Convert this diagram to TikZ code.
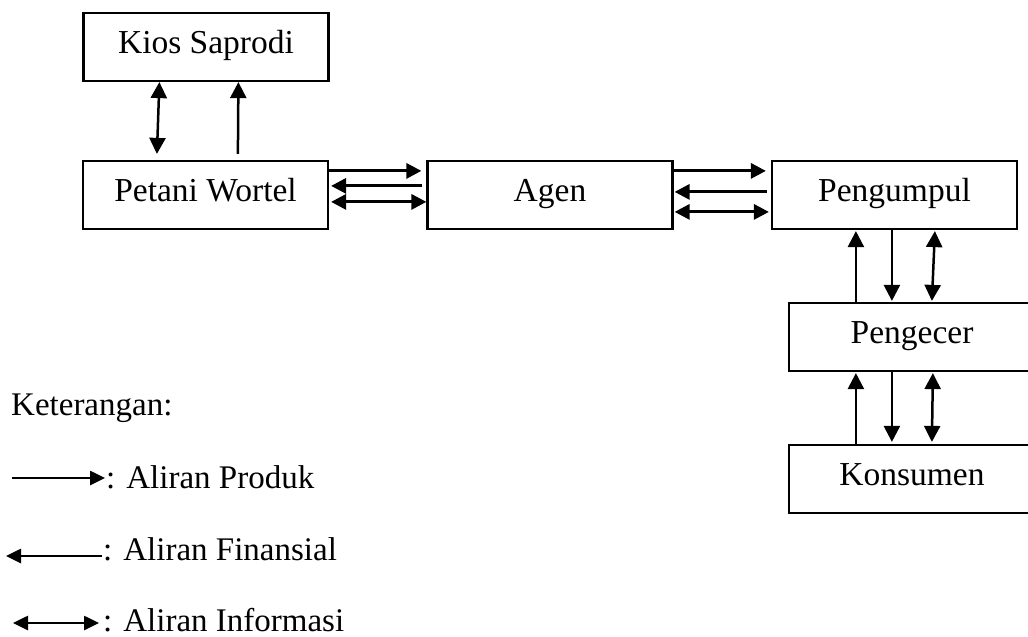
\documentclass[tikz,border=0pt]{standalone}
\usepackage{fontspec}
\setmainfont{Liberation Serif}
\usetikzlibrary{arrows.meta,calc}
\begin{document}
\begin{tikzpicture}[x=1pt,y=-1pt,
  box/.style={draw,line width=2.2pt,minimum width=245pt,minimum height=68pt,inner sep=0pt,
    text height=20pt,text depth=8pt,font=\fontsize{33.5}{38}\selectfont},
  legtext/.style={anchor=base west,inner sep=0pt,font=\fontsize{33}{38}\selectfont},
  harr/.style={line width=3pt,-{Triangle[length=15pt,width=15pt]}},
  hdbl/.style={line width=3pt,{Triangle[length=15pt,width=15pt]}-{Triangle[length=15pt,width=15pt]}},
  varr/.style={line width=2.5pt,-{Triangle[length=16pt,width=16pt]}},
  vdbl/.style={line width=2.5pt,{Triangle[length=16pt,width=16pt]}-{Triangle[length=16pt,width=16pt]}},
  larr/.style={line width=2.6pt,-{Triangle[length=15pt,width=14pt]}},
  ldbl/.style={line width=2.6pt,{Triangle[length=15pt,width=14pt]}-{Triangle[length=15pt,width=14pt]}}
]
\useasboundingbox (0,0) rectangle (1028,637);

% boxes
\node[box] (kios) at (206,47) {Kios Saprodi};
\node[box] (petani) at (205.5,195) {Petani Wortel};
\node[box] (agen) at (550,195) {Agen};
\node[box] (pengumpul) at (894.5,195) {Pengumpul};
\node[box,minimum width=246pt] (pengecer) at (912,337) {Pengecer};
\node[box,minimum width=246pt] (konsumen) at (912,479) {Konsumen};

% Kios - Petani
\draw[vdbl] ($(kios.south west)+(77,0)$) -- ($(petani.north west)+(75,-6)$);
\draw[varr] ($(petani.north west)+(156,-6)$) -- ($(kios.south west)+(156,0)$);

% Petani - Agen
\draw[harr] ($(petani.north east)+(0,11)$) -- ($(agen.north west)+(-5,11)$);
\draw[harr] ($(agen.north west)+(-4,26)$) -- ($(petani.north east)+(2,26)$);
\draw[hdbl] ($(petani.north east)+(2,42)$) -- ($(agen.north west)+(0,42)$);

% Agen - Pengumpul
\draw[harr] ($(agen.north east)+(0,11)$) -- ($(pengumpul.north west)+(-5,11)$);
\draw[harr] ($(pengumpul.north west)+(-4,32)$) -- ($(agen.north east)+(1,32)$);
\draw[hdbl] ($(agen.north east)+(1,52)$) -- ($(pengumpul.north west)+(-2,52)$);

% Pengumpul - Pengecer
\draw[varr] ($(pengecer.north west)+(68,0)$) -- ($(pengumpul.south west)+(85,1)$);
\draw[varr] ($(pengumpul.south west)+(121,0)$) -- ($(pengecer.north west)+(104,-1)$);
\draw[vdbl] ($(pengumpul.south west)+(164,1)$) -- ($(pengecer.north west)+(144,-1)$);

% Pengecer - Konsumen
\draw[varr] ($(konsumen.north west)+(68,0)$) -- ($(pengecer.south west)+(68,1)$);
\draw[varr] ($(pengecer.south west)+(104,0)$) -- ($(konsumen.north west)+(104,-2)$);
\draw[vdbl] ($(pengecer.south west)+(145,1)$) -- ($(konsumen.north west)+(144,-2)$);

% legend
\node[legtext] (ket) at (11,415) {Keterangan:};
\node[legtext] (lprod) at (106,488) {: Aliran Produk};
\node[legtext] (lfin) at (103,560) {: Aliran Finansial};
\node[legtext] (linf) at (103,631) {: Aliran Informasi};
\coordinate (p1) at (12,478);
\coordinate (f1) at (6,556);
\coordinate (i1) at (13,623);
\draw[larr] (p1) -- ($(lprod.west |- p1)+(-1,0)$);
\draw[larr] ($(lfin.west |- f1)+(-1,0)$) -- (f1);
\draw[ldbl] (i1) -- ($(linf.west |- i1)+(-4,0)$);
\end{tikzpicture}
\end{document}
